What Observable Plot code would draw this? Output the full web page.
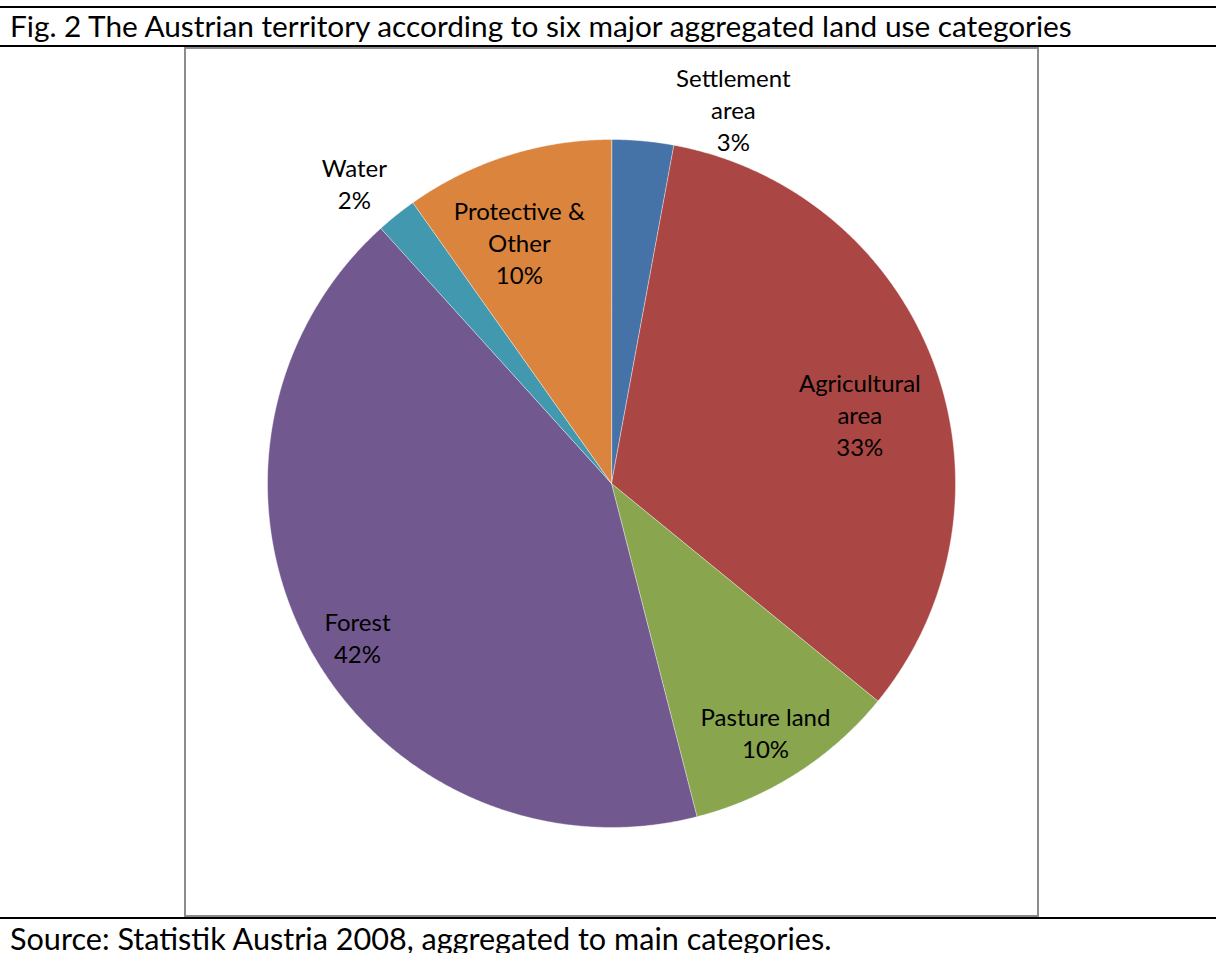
<!DOCTYPE html>
<html>
<head>
<meta charset="utf-8">
<script src="https://cdn.jsdelivr.net/npm/d3@7"></script>
<script src="https://cdn.jsdelivr.net/npm/@observablehq/plot@0.6"></script>
<style>
  html, body { margin: 0; padding: 0; background: #fff; }
  #page { position: relative; width: 1216px; height: 953px; overflow: hidden;
          font-family: Lato, "Open Sans", sans-serif; color: #000; }
  .hline { position: absolute; left: 0; width: 1216px; height: 2px; background: #000; }
  #title { position: absolute; left: 10px; top: 7px; font-size: 29.8px; line-height: 38px; white-space: nowrap; }
  #box { position: absolute; left: 184px; top: 47px; width: 851px; height: 866px;
         border: 2px solid #8c8c8c; background: #fff; }
  #box svg { position: absolute; left: 0; top: 0; }
  #source { position: absolute; left: 10px; top: 920px; font-size: 30.6px; line-height: 38px; white-space: nowrap; }
</style>
</head>
<body>
<div id="page">
  <div class="hline" style="top:6px"></div>
  <div id="title">Fig. 2 The Austrian territory according to six major aggregated land use categories</div>
  <div class="hline" style="top:45px"></div>
  <div class="hline" style="top:917px"></div>
  <div id="box"></div>
  <div id="source">Source: Statistik Austria 2008, aggregated to main categories.</div>
</div>
<script>
// ---- data ----
const categories = ["Settlement area", "Agricultural area", "Pasture land", "Forest", "Water", "Protective & Other"];
const shares = [2.9, 33.0, 10.1, 42.3, 1.9, 9.8];
const labelNames = ["Settlement\narea", "Agricultural\narea", "Pasture land", "Forest", "Water", "Protective &\nOther"];
const colors = ["#4572A7", "#AA4643", "#89A54E", "#71588F", "#4198AF", "#DB843D"];

// ---- label layout (radius as fraction of pie radius, angle nudge in degrees) ----
const labelRadius = [1.145, 0.75, 0.85, 0.862, 1.151, 0.753];
const labelNudge = [12.8, 4.4, 0.8, -2.8, -1.8, -3.2];

const rows = categories.map((c, i) => ({category: c, share: shares[i], name: labelNames[i]}));
const arcs = d3.pie().sort(null).value(d => d.share)(rows);

const features = arcs.map(a => {
  const n = Math.max(2, Math.ceil((a.endAngle - a.startAngle) / 0.005));
  const ring = [[0, 0]];
  for (let k = 0; k <= n; k++) {
    const t = a.startAngle + (a.endAngle - a.startAngle) * k / n;
    ring.push([Math.sin(t), -Math.cos(t)]);
  }
  ring.push([0, 0]);
  return {type: "Feature", properties: {category: a.data.category}, geometry: {type: "Polygon", coordinates: [ring]}};
});

const labels = arcs.map((a, i) => {
  const mid = (a.startAngle + a.endAngle) / 2 + labelNudge[i] * Math.PI / 180;
  const r = labelRadius[i];
  return {x: r * Math.sin(mid), y: -r * Math.cos(mid), text: a.data.name + "\n" + Math.round(a.data.share) + "%"};
});

const chart = Plot.plot({
  width: 851,
  height: 866,
  marginLeft: 81,
  marginRight: 82,
  marginTop: 90,
  marginBottom: 88,
  style: {background: "transparent", fontFamily: "Lato, 'Open Sans', sans-serif"},
  projection: {type: "identity", domain: {type: "MultiPoint", coordinates: [[-1, -1], [1, 1]]}, clip: false},
  color: {domain: categories, range: colors},
  marks: [
    Plot.geo(features, {fill: d => d.properties.category, stroke: "#ffffff", strokeWidth: 0.7, strokeOpacity: 0.6}),
    Plot.text(labels, {x: "x", y: "y", text: "text", fill: "#000", fontSize: 24, lineHeight: 1.33})
  ]
});
document.getElementById("box").appendChild(chart);
</script>
</body>
</html>
